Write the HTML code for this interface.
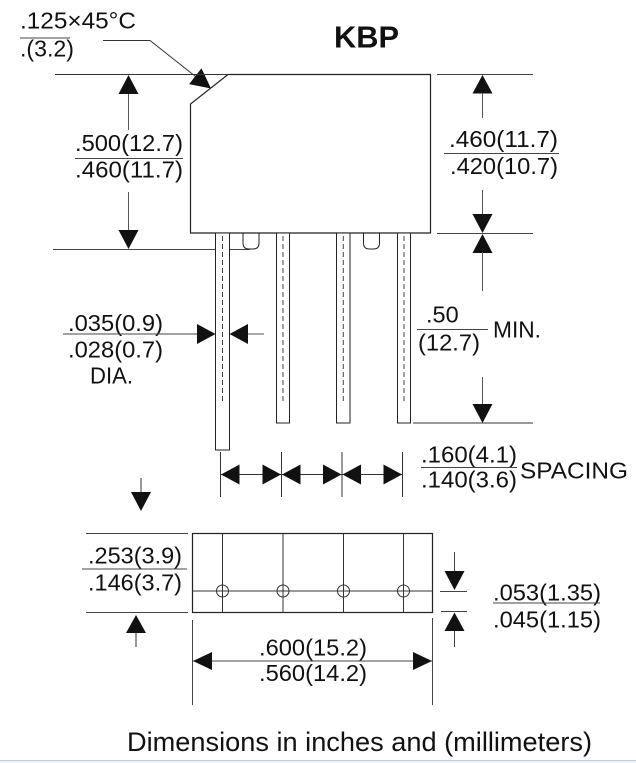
<!DOCTYPE html>
<html>
<head>
<meta charset="utf-8">
<style>
html,body{margin:0;padding:0;background:#fff;}
svg{display:block;}
text{font-family:"Liberation Sans",Arial,sans-serif;fill:#111;}
</style>
</head>
<body>
<svg width="636" height="763" viewBox="0 0 636 763" xmlns="http://www.w3.org/2000/svg">
<rect x="0" y="0" width="636" height="763" fill="#fff"/>

<!-- ===== Title ===== -->
<text x="334" y="47.5" font-size="31" font-weight="bold" textLength="65" lengthAdjust="spacingAndGlyphs">KBP</text>

<!-- ===== Chamfer leader ===== -->
<text x="20" y="28.5" font-size="23.5" textLength="116" lengthAdjust="spacingAndGlyphs">.125×45°C</text>
<line x1="20" y1="38" x2="70" y2="38" stroke="#444" stroke-width="1"/>
<text x="20" y="56.5" font-size="23.5" textLength="54" lengthAdjust="spacingAndGlyphs">.(3.2)</text>
<polyline points="103,40.5 150,40.5 200,80" fill="none" stroke="#333" stroke-width="1"/>
<polygon points="211,88.5 189.1,84.1 201.5,68.3" fill="#111"/>

<!-- ===== Body ===== -->
<polygon points="228,74.5 430.5,74.5 430.5,233 190.5,233 190.5,104" fill="none" stroke="#222" stroke-width="1.2"/>

<!-- extension lines -->
<line x1="55" y1="74.5" x2="228" y2="74.5" stroke="#333" stroke-width="1"/>
<line x1="53" y1="249.5" x2="250" y2="249.5" stroke="#444" stroke-width="1"/>
<line x1="437" y1="74.5" x2="533" y2="74.5" stroke="#444" stroke-width="1"/>
<line x1="437" y1="233.5" x2="533" y2="233.5" stroke="#444" stroke-width="1"/>
<line x1="413" y1="423" x2="533" y2="423" stroke="#333" stroke-width="1"/>

<!-- left height dim .500/.460 -->
<polygon points="128.5,75 118.5,94 138.5,94" fill="#111"/>
<line x1="128.5" y1="94" x2="128.5" y2="130" stroke="#555" stroke-width="1"/>
<text x="75" y="151" font-size="23.5" textLength="108" lengthAdjust="spacingAndGlyphs">.500(12.7)</text>
<line x1="75" y1="158.5" x2="183" y2="158.5" stroke="#444" stroke-width="1"/>
<text x="75" y="177.5" font-size="23.5" textLength="108" lengthAdjust="spacingAndGlyphs">.460(11.7)</text>
<line x1="128.5" y1="192" x2="128.5" y2="230" stroke="#555" stroke-width="1"/>
<polygon points="128.5,249 118.5,230 138.5,230" fill="#111"/>

<!-- right height dim .460/.420 -->
<polygon points="482.5,75 472.5,93.5 492.5,93.5" fill="#111"/>
<line x1="482.5" y1="93" x2="482.5" y2="118" stroke="#555" stroke-width="1"/>
<text x="449" y="147" font-size="23.5" textLength="109" lengthAdjust="spacingAndGlyphs">.460(11.7)</text>
<line x1="444" y1="153.5" x2="559" y2="153.5" stroke="#444" stroke-width="1"/>
<text x="450" y="174" font-size="23.5" textLength="108" lengthAdjust="spacingAndGlyphs">.420(10.7)</text>
<line x1="482.5" y1="190" x2="482.5" y2="214" stroke="#555" stroke-width="1"/>
<polygon points="482.5,233 472.5,214 492.5,214" fill="#111"/>

<!-- lead length .50 MIN -->
<polygon points="482.5,234 472.5,253 492.5,253" fill="#111"/>
<line x1="482.5" y1="252" x2="482.5" y2="291" stroke="#555" stroke-width="1"/>
<text x="426" y="322.5" font-size="23.5">.50</text>
<line x1="417" y1="329.5" x2="488" y2="329.5" stroke="#444" stroke-width="1"/>
<text x="418" y="350.5" font-size="23.5" textLength="62" lengthAdjust="spacingAndGlyphs">(12.7)</text>
<text x="493" y="337.5" font-size="23.5" textLength="48" lengthAdjust="spacingAndGlyphs">MIN.</text>
<line x1="482.5" y1="377" x2="482.5" y2="404" stroke="#555" stroke-width="1"/>
<polygon points="482.5,423 472.5,404 492.5,404" fill="#111"/>

<!-- ===== Leads ===== -->
<g fill="#fff" stroke="#222" stroke-width="1">
<rect x="215.5" y="233" width="14" height="217"/>
<rect x="276.5" y="233" width="13" height="190"/>
<rect x="336.5" y="233" width="13.5" height="190"/>
<rect x="397.5" y="233" width="13" height="190"/>
</g>
<g stroke="#444" stroke-width="1" stroke-dasharray="5,3">
<line x1="222.5" y1="236" x2="222.5" y2="402"/>
<line x1="283" y1="236" x2="283" y2="402"/>
<line x1="343.3" y1="236" x2="343.3" y2="402"/>
<line x1="404" y1="236" x2="404" y2="402"/>
</g>
<!-- notches -->
<path d="M243,233 V243 Q243,249 249,249 H253 Q259,249 259,243 V233" fill="none" stroke="#222" stroke-width="1"/>
<path d="M363.5,233 V243 Q363.5,249 369.5,249 H373.5 Q379.5,249 379.5,243 V233" fill="none" stroke="#222" stroke-width="1"/>

<!-- dia dimension -->
<text x="68" y="331" font-size="23.5" textLength="95" lengthAdjust="spacingAndGlyphs">.035(0.9)</text>
<line x1="63" y1="334" x2="200" y2="334" stroke="#444" stroke-width="1"/>
<polygon points="215.5,334 197,324 197,344" fill="#111"/>
<polygon points="229.5,334 248,324 248,344" fill="#111"/>
<line x1="248" y1="334" x2="264" y2="334" stroke="#555" stroke-width="1"/>
<text x="68" y="357.5" font-size="23.5" textLength="95" lengthAdjust="spacingAndGlyphs">.028(0.7)</text>
<text x="90" y="383.5" font-size="23.5" textLength="43" lengthAdjust="spacingAndGlyphs">DIA.</text>

<!-- spacing dimension -->
<g stroke="#333" stroke-width="1">
<line x1="220.5" y1="452" x2="220.5" y2="497"/>
<line x1="281.5" y1="452" x2="281.5" y2="497"/>
<line x1="342" y1="452" x2="342" y2="497"/>
<line x1="402.5" y1="452" x2="402.5" y2="497"/>
<line x1="220.5" y1="474.5" x2="402.5" y2="474.5"/>
</g>
<g fill="#111">
<polygon points="221,474.5 239.5,464.5 239.5,484.5"/>
<polygon points="281,474.5 262.5,464.5 262.5,484.5"/>
<polygon points="282,474.5 300.5,464.5 300.5,484.5"/>
<polygon points="341.5,474.5 323,464.5 323,484.5"/>
<polygon points="342.5,474.5 361,464.5 361,484.5"/>
<polygon points="402,474.5 383.5,464.5 383.5,484.5"/>
</g>
<text x="421" y="462.5" font-size="23.5" textLength="96" lengthAdjust="spacingAndGlyphs">.160(4.1)</text>
<line x1="421" y1="467.5" x2="517" y2="467.5" stroke="#444" stroke-width="1"/>
<text x="421" y="487.5" font-size="23.5" textLength="96" lengthAdjust="spacingAndGlyphs">.140(3.6)</text>
<text x="520" y="478.5" font-size="23.5" textLength="108" lengthAdjust="spacingAndGlyphs">SPACING</text>

<!-- ===== Bottom view ===== -->
<line x1="141" y1="478" x2="141" y2="492" stroke="#333" stroke-width="1"/>
<polygon points="141,511 131,492 151,492" fill="#111"/>

<rect x="192.5" y="533.5" width="240" height="79" fill="none" stroke="#222" stroke-width="1.2"/>
<g stroke="#333" stroke-width="1">
<line x1="222.5" y1="533.5" x2="222.5" y2="612.5"/>
<line x1="283" y1="533.5" x2="283" y2="612.5"/>
<line x1="343.5" y1="533.5" x2="343.5" y2="612.5"/>
<line x1="403.5" y1="533.5" x2="403.5" y2="612.5"/>
<line x1="192.5" y1="591" x2="432.5" y2="591"/>
</g>
<g fill="none" stroke="#333" stroke-width="1">
<circle cx="222.5" cy="591" r="6"/>
<circle cx="283" cy="591" r="6"/>
<circle cx="343.5" cy="591" r="6"/>
<circle cx="403.5" cy="591" r="6"/>
</g>

<!-- height .253/.146 -->
<line x1="86" y1="533.5" x2="188" y2="533.5" stroke="#444" stroke-width="1"/>
<line x1="86" y1="612.5" x2="188" y2="612.5" stroke="#444" stroke-width="1"/>
<text x="88" y="563.5" font-size="23.5" textLength="94" lengthAdjust="spacingAndGlyphs">.253(3.9)</text>
<line x1="82" y1="569" x2="187" y2="569" stroke="#444" stroke-width="1"/>
<text x="88" y="590.5" font-size="23.5" textLength="94" lengthAdjust="spacingAndGlyphs">.146(3.7)</text>
<polygon points="136,615 126,633 146,633" fill="#111"/>
<line x1="136" y1="633" x2="136" y2="647" stroke="#333" stroke-width="1"/>

<!-- width .600/.560 -->
<line x1="192.5" y1="620" x2="192.5" y2="705" stroke="#444" stroke-width="1"/>
<line x1="432.5" y1="618" x2="432.5" y2="705" stroke="#444" stroke-width="1"/>
<line x1="192.5" y1="661" x2="432.5" y2="661" stroke="#444" stroke-width="1"/>
<polygon points="193,661 212,652 212,670" fill="#111"/>
<polygon points="432,661 413,652 413,670" fill="#111"/>
<text x="259" y="655.5" font-size="23.5" textLength="108" lengthAdjust="spacingAndGlyphs">.600(15.2)</text>
<text x="259" y="681" font-size="23.5" textLength="108" lengthAdjust="spacingAndGlyphs">.560(14.2)</text>

<!-- thickness .053/.045 -->
<line x1="454.5" y1="552" x2="454.5" y2="572" stroke="#444" stroke-width="1"/>
<polygon points="454.5,590 444.5,571 464.5,571" fill="#111"/>
<line x1="440" y1="591.5" x2="467" y2="591.5" stroke="#444" stroke-width="1"/>
<line x1="441" y1="611.5" x2="467" y2="611.5" stroke="#444" stroke-width="1"/>
<polygon points="454.5,612.5 444.5,631 464.5,631" fill="#111"/>
<line x1="454.5" y1="631" x2="454.5" y2="647" stroke="#444" stroke-width="1"/>
<text x="493" y="600.5" font-size="23.5" textLength="108" lengthAdjust="spacingAndGlyphs">.053(1.35)</text>
<line x1="493" y1="603" x2="600" y2="603" stroke="#444" stroke-width="1"/>
<text x="493" y="627.5" font-size="23.5" textLength="108" lengthAdjust="spacingAndGlyphs">.045(1.15)</text>

<!-- footer -->
<text x="127" y="751" font-size="26.5" textLength="465" lengthAdjust="spacingAndGlyphs">Dimensions in inches and (millimeters)</text>
<rect x="0" y="760" width="636" height="1" fill="#bccde0"/>
<rect x="0" y="761" width="636" height="2" fill="#eef3f8"/>
</svg>
</body>
</html>
